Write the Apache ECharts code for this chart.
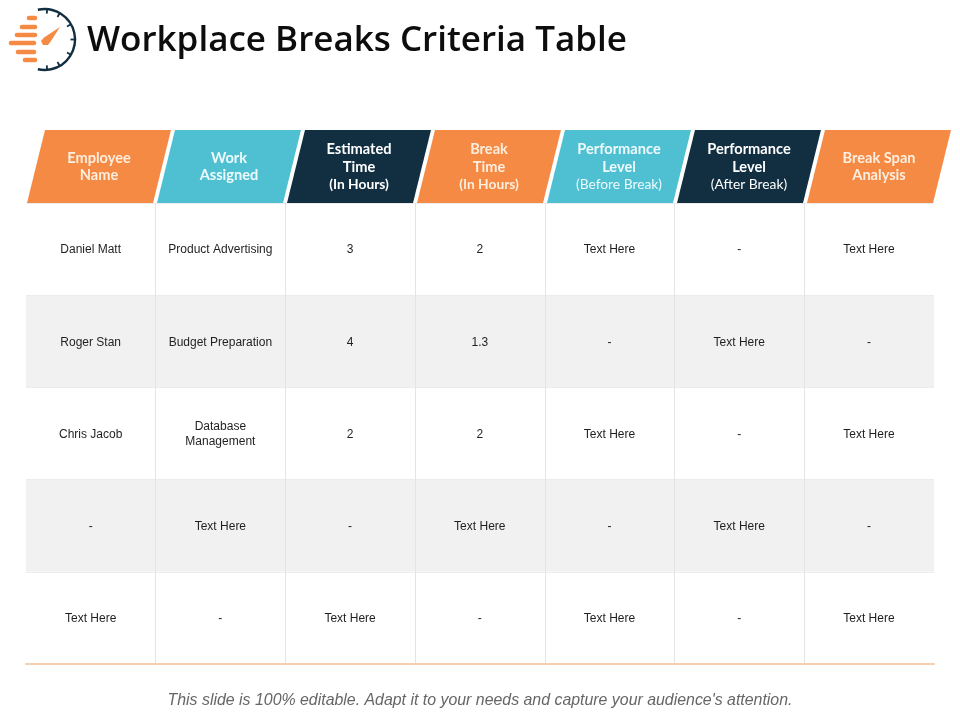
<!DOCTYPE html>
<html>
<head>
<meta charset="utf-8">
<style>html,body{margin:0;padding:0;background:#fff}#main{width:960px;height:720px}</style>
<script src="https://cdn.jsdelivr.net/npm/echarts@6/dist/echarts.min.js"></script>
</head>
<body>
<div id="main"></div>
<script>
var titleText = 'Workplace Breaks Criteria Table';
var footerText = "This slide is 100% editable. Adapt it to your needs and capture your audience's attention.";

var columns = ['c1', 'c2', 'c3', 'c4', 'c5', 'c6', 'c7'];
var rowNames = ['r1', 'r2', 'r3', 'r4', 'r5'];

var headerBold = [
  'Employee\nName', 'Work\nAssigned', 'Estimated\nTime', 'Break\nTime',
  'Performance\nLevel', 'Performance\nLevel', 'Break Span\nAnalysis'
];
var headerNote = ['', '', '(In Hours)', '(In Hours)', '(Before Break)', '(After Break)', ''];
var headerFill = ['#f58a45', '#4fc0d2', '#122f42', '#f58a45', '#4fc0d2', '#122f42', '#f58a45'];
var headerInk = ['#fdeede', '#eefafc', '#ffffff', '#fdeede', '#eefafc', '#ffffff', '#fdeede'];

var row1 = ['Daniel Matt', 'Product Advertising', '3', '2', 'Text Here', '-', 'Text Here'];
var row2 = ['Roger Stan', 'Budget Preparation', '4', '1.3', '-', 'Text Here', '-'];
var row3 = ['Chris Jacob', 'Database\nManagement', '2', '2', 'Text Here', '-', 'Text Here'];
var row4 = ['-', 'Text Here', '-', 'Text Here', '-', 'Text Here', '-'];
var row5 = ['Text Here', '-', 'Text Here', '-', 'Text Here', '-', 'Text Here'];
var tableRows = [row1, row2, row3, row4, row5];

var cellData = [];
tableRows.forEach(function (row, r) {
  row.forEach(function (text, c) {
    cellData.push([c, r, text]);
  });
});
var headerData = columns.map(function (c, i) {
  return [i, 0, headerBold[i], headerNote[i]];
});

var chart = echarts.init(document.getElementById('main'), null, { renderer: 'canvas' });

function renderHeader(params, api) {
  var i = api.value(0);
  var p = api.coord([i, 0]);
  var s = api.size([1, 1]);
  var left = p[0] - s[0] / 2, top = p[1] - s[1] / 2, bottom = p[1] + s[1] / 2;
  var note = headerNote[i];
  return {
    type: 'group',
    children: [{
      type: 'polygon',
      shape: { points: [
        [left + 1, bottom], [left + 19, top], [left + 145, top], [left + 127, bottom]
      ] },
      style: { fill: headerFill[i] }
    }, {
      type: 'text',
      x: left + 73,
      y: p[1] + 0.5,
      style: {
        text: '{b|' + headerBold[i].replace('\n', '}\n{b|') + '}' + (note ? '\n{n|' + note + '}' : ''),
        align: 'center',
        verticalAlign: 'middle',
        rich: {
          b: { fontFamily: 'Lato', fontSize: 14.6, fontWeight: 'bold', lineHeight: 17.5, fill: headerInk[i], align: 'center' },
          n: { fontFamily: 'Lato', fontSize: 13.8, fontWeight: i < 4 ? 'bold' : 'normal', lineHeight: 17.5, fill: headerInk[i], align: 'center' }
        }
      }
    }]
  };
}

function renderCell(params, api) {
  var p = api.coord([api.value(0), api.value(1)]);
  return {
    type: 'text',
    x: p[0] - 0.2,
    y: p[1] + 1,
    style: {
      text: tableRows[api.value(1)][api.value(0)],
      align: 'center',
      verticalAlign: 'middle',
      fontFamily: 'Liberation Sans',
      fontSize: 12,
      lineHeight: 15,
      fill: '#1f1f1f'
    }
  };
}

// stopwatch logo, left of the title
var logoBars = [[29, 35, 18], [22, 35, 27], [17, 35, 35], [11, 34, 43], [18, 34, 52], [25, 35, 60]];
var logoTicks = [-60, -30, 0, 30, 60, -85, 85];
var logo = logoBars.map(function (b) {
  return {
    type: 'line',
    shape: { x1: b[0], y1: b[2], x2: b[1], y2: b[2] },
    style: { stroke: '#f58a45', lineWidth: 4.6, lineCap: 'round' }
  };
});
logo.push({
  type: 'arc',
  shape: { cx: 44.5, cy: 39.5, r: 30.5, startAngle: -Math.PI * 0.57, endAngle: Math.PI * 0.57 },
  style: { stroke: '#122f42', lineWidth: 2.4, fill: null }
});
logoTicks.forEach(function (deg) {
  var a = deg * Math.PI / 180;
  logo.push({
    type: 'line',
    shape: {
      x1: 44.5 + 30 * Math.cos(a), y1: 39.5 + 30 * Math.sin(a),
      x2: 44.5 + 26 * Math.cos(a), y2: 39.5 + 26 * Math.sin(a)
    },
    style: { stroke: '#122f42', lineWidth: 1.8 }
  });
});
logo.push({
  type: 'polygon',
  shape: { points: [[60, 27], [51, 41], [48, 45], [43, 45], [41, 41], [44, 37.5]] },
  style: { fill: '#f58a45' }
});

chart.setOption({
  animation: false,
  title: {
    text: titleText,
    left: 82,
    top: 19,
    padding: [5, 5, 5, 5],
    textStyle: { fontFamily: 'Open Sans', fontSize: 35, fontWeight: 600, color: '#0d0d0d' }
  },
  graphic: logo.concat([{
    type: 'text',
    left: 'center',
    top: 693,
    style: { text: footerText, fontFamily: 'Liberation Sans', fontStyle: 'italic', fontSize: 15.9, fill: '#666666' }
  }]),
  grid: [
    { left: 26, width: 910, top: 130, height: 73 },
    { left: 26, width: 908, top: 203, height: 461 }
  ],
  xAxis: [{
    gridIndex: 0, type: 'category', data: columns,
    axisLine: { show: false }, axisTick: { show: false }, axisLabel: { show: false }
  }, {
    gridIndex: 1, type: 'category', data: columns,
    axisLine: { lineStyle: { color: '#f6cfae', width: 2 } },
    axisTick: { show: false }, axisLabel: { show: false },
    splitLine: { show: true, showMinLine: false, showMaxLine: false, lineStyle: { color: '#e4e4e4', width: 1 } }
  }],
  yAxis: [{
    gridIndex: 0, type: 'category', data: ['header'],
    axisLine: { show: false }, axisTick: { show: false }, axisLabel: { show: false }
  }, {
    gridIndex: 1, type: 'category', data: rowNames, inverse: true,
    axisLine: { show: false }, axisTick: { show: false }, axisLabel: { show: false },
    splitArea: { show: true, areaStyle: { color: ['#ffffff', '#f1f1f1'] } },
    splitLine: { show: true, showMaxLine: false, lineStyle: { color: '#ececec', width: 1 } }
  }],
  series: [{
    type: 'custom',
    xAxisIndex: 0,
    yAxisIndex: 0,
    data: headerData,
    renderItem: renderHeader,
    clip: false,
    silent: true
  }, {
    type: 'custom',
    xAxisIndex: 1,
    yAxisIndex: 1,
    data: cellData,
    renderItem: renderCell,
    silent: true
  }]
});
</script>
</body>
</html>
